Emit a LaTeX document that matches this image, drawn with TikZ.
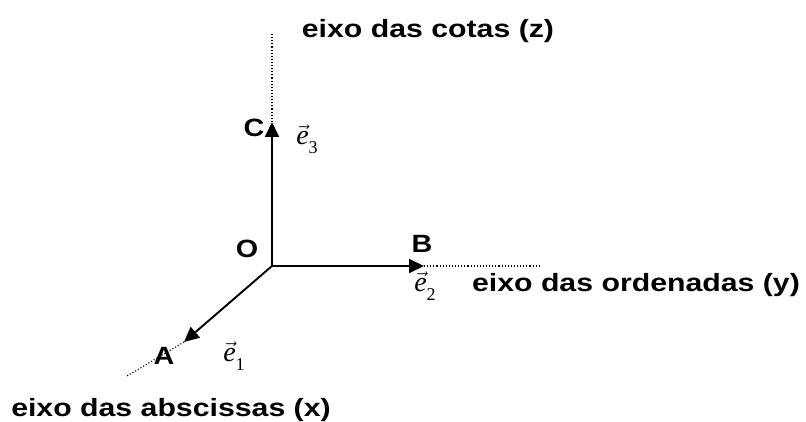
\documentclass[tikz,border=0pt]{standalone}
\usepackage{fontspec}
\setmainfont{Liberation Sans}
\newfontfamily\tnr{Liberation Serif}
\usetikzlibrary{arrows.meta}
\newcommand{\vlab}[1]{$\vec{\hbox{\tnr\itshape e}}$\raisebox{-0.3em}{\tnr\fontsize{18}{18}\selectfont #1}}
\begin{document}
\begin{tikzpicture}[x=1pt,y=-1pt,
  axis/.style={line width=1.9pt,-{Triangle[length=15pt,width=14pt]}},
  ext/.style={line width=1.1pt,dotted},
  biglabel/.style={font=\fontsize{25}{25}\selectfont\bfseries,inner sep=0pt,xscale=1.21,transform shape},
  ptlabel/.style={font=\fontsize{25}{25}\selectfont\bfseries,inner sep=0pt,xscale=1.15,transform shape},
  veclabel/.style={font=\fontsize{28}{28}\selectfont,inner sep=0pt}]
\useasboundingbox (0,0) rectangle (806,422);
\coordinate (O) at (272,266);
\coordinate (Zt) at (272,122);
\coordinate (Ze) at (272,33);
\coordinate (Yt) at (424,266);
\coordinate (Ye) at (540,266);
\coordinate (Xt) at (184,342);
\coordinate (Xe) at (127,376);
\draw[axis] (O) -- (Zt);
\draw[axis] (O) -- (Yt);
\draw[axis] (O) -- (Xt);
\draw[ext] (Zt) -- (Ze);
\draw[ext] (Yt) -- (Ye);
\draw[ext] (Xt) -- (Xe);
\node[ptlabel] (lO) at (247,249) {O};
\node[ptlabel] (lC) at (254,128) {C};
\node[ptlabel] (lB) at (422,244) {B};
\node[ptlabel] (lA) at (164,356) {A};
\node[veclabel] (e3) at (307,139) {\vlab{3}};
\node[veclabel] (e2) at (425,286) {\vlab{2}};
\node[veclabel] (e1) at (234,356) {\vlab{1}};
\node[biglabel] (lz) at (428,31) {eixo das cotas (z)};
\node[biglabel] (ly) at (636,285) {eixo das ordenadas (y)};
\node[biglabel] (lx) at (171,410) {eixo das abscissas (x)};
\end{tikzpicture}
\end{document}
